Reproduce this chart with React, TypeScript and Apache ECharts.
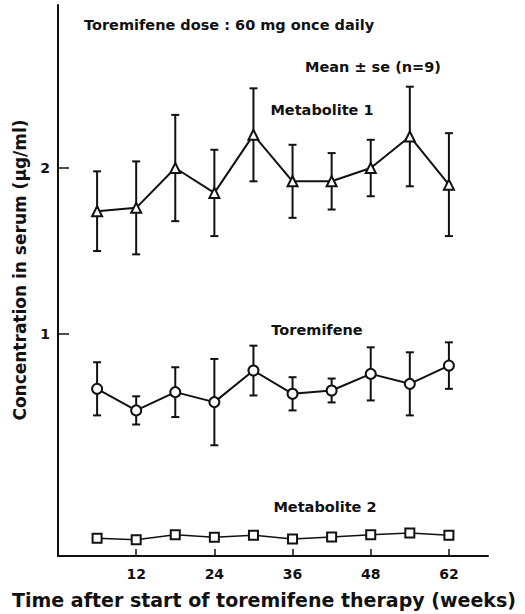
import React, { useEffect, useRef } from "react";
import * as echarts from "echarts";

const weeks = ["6", "12", "18", "24", "30", "36", "42", "48", "54", "62"];
const tickLabels = ["12", "24", "36", "48", "62"];
const yTickValues = [1, 2];

const metabolite1Mean = [1.74, 1.76, 2.0, 1.85, 2.2, 1.92, 1.92, 2.0, 2.19, 1.9];
const metabolite1Se = [0.24, 0.28, 0.32, 0.26, 0.28, 0.22, 0.17, 0.17, 0.3, 0.31];

const toremifeneMean = [0.67, 0.54, 0.65, 0.59, 0.78, 0.64, 0.66, 0.76, 0.7, 0.81];
const toremifeneSe = [0.16, 0.085, 0.15, 0.26, 0.15, 0.1, 0.072, 0.16, 0.19, 0.14];

const metabolite2Mean = [0.107, 0.098, 0.128, 0.113, 0.125, 0.102, 0.114, 0.128, 0.139, 0.125];

const FONT = "DejaVu Sans";
const INK = "#111";

export default function App() {
  const ref = useRef<HTMLDivElement>(null);
  useEffect(() => {
    if (!ref.current) return;
    const chart = echarts.init(ref.current, undefined, { renderer: "svg" });
    const categories = ["", ...weeks, " "];
    const pairs = (vals: number[]) => weeks.map((w, i) => [w, vals[i]]);
    const errPairs = (m: number[], s: number[]) => weeks.map((w, i) => [w, m[i], s[i]]);

    const errorBar = (m: number[], s: number[]) => ({
      type: "custom",
      z: 1,
      data: errPairs(m, s),
      encode: { x: 0, y: 1 },
      renderItem: (params: any, api: any) => {
        const xi = api.value(0);
        const v = api.value(1);
        const e = api.value(2);
        const top = api.coord([xi, v + e]);
        const bot = api.coord([xi, v - e]);
        const hw = 4;
        const style = { stroke: INK, lineWidth: 2 };
        return {
          type: "group",
          children: [
            { type: "line", shape: { x1: top[0], y1: top[1], x2: bot[0], y2: bot[1] }, style },
            { type: "line", shape: { x1: top[0] - hw, y1: top[1], x2: top[0] + hw, y2: top[1] }, style },
            { type: "line", shape: { x1: bot[0] - hw, y1: bot[1], x2: bot[0] + hw, y2: bot[1] }, style },
          ],
        };
      },
    });

    const lineSeries = (name: string, vals: number[], symbol: string, size: number, w: number, yAxisIndex = 0) => ({
      type: "line",
      name,
      z: 3,
      yAxisIndex,
      data: pairs(vals),
      symbol,
      symbolSize: size,
      showAllSymbol: true,
      lineStyle: { color: INK, width: w },
      itemStyle: { color: "#fff", borderColor: INK, borderWidth: 2 },
    });

    const yMin = -0.337;
    const yMax = 2.982;
    const label = (text: string, x: number, y: number, size: number, align = "left", rotation = 0) => ({
      type: "text",
      x,
      y,
      rotation,
      style: { text, fontFamily: FONT, fontWeight: "bold", fontSize: size, fill: INK, textAlign: align, textVerticalAlign: "middle" },
    });

    chart.setOption({
      animation: false,
      grid: { left: 58, right: 37, top: 5, bottom: 58 },
      xAxis: {
        type: "category",
        data: categories,
        boundaryGap: false,
        axisLine: { onZero: false, lineStyle: { color: INK, width: 2 } },
        axisTick: {
          inside: true,
          length: 7,
          lineStyle: { color: INK, width: 1.5 },
          interval: (i: number, v: string) => tickLabels.includes(v),
        },
        axisLabel: {
          interval: (i: number, v: string) => tickLabels.includes(v),
          color: INK,
          fontFamily: FONT,
          fontWeight: "bold",
          fontSize: 14,
          margin: 11,
        },
        splitLine: { show: false },
      },
      yAxis: [
        {
          type: "value",
          min: yMin,
          max: yMax,
          axisLine: { show: true, lineStyle: { color: INK, width: 2 } },
          axisTick: {
            show: true,
            inside: true,
            length: 11,
            customValues: yTickValues,
            lineStyle: { color: INK, width: 1.5 },
          },
          axisLabel: {
            customValues: yTickValues,
            color: INK,
            fontFamily: FONT,
            fontWeight: "bold",
            fontSize: 14,
            margin: 8,
          },
          splitLine: { show: false },
        },
        {
          type: "value",
          min: 0,
          max: yMax - yMin,
          show: false,
          splitLine: { show: false },
        },
      ],
      graphic: [
        label("Toremifene dose : 60 mg once daily", 84, 25, 14.5),
        label("Mean ± se (n=9)", 305, 67, 14.5),
        label("Metabolite 1", 322, 110, 14.5, "center"),
        label("Toremifene", 317, 330, 14.5, "center"),
        label("Metabolite 2", 325, 507, 14.5, "center"),
        label("Time after start of toremifene therapy (weeks)", 264, 600, 19, "center"),
        label("Concentration in serum (µg/ml)", 20, 270, 17, "center", Math.PI / 2),
      ],
      series: [
        errorBar(metabolite1Mean, metabolite1Se),
        errorBar(toremifeneMean, toremifeneSe),
        lineSeries("Metabolite 1", metabolite1Mean, "triangle", 10, 2),
        lineSeries("Toremifene", toremifeneMean, "circle", 10, 2),
        lineSeries("Metabolite 2", metabolite2Mean, "rect", 9, 1.5, 1),
      ],
    });
    return () => chart.dispose();
  }, []);
  return <div ref={ref} style={{ width: 525, height: 614, position: "absolute", left: 0, top: 0 }} />;
}
